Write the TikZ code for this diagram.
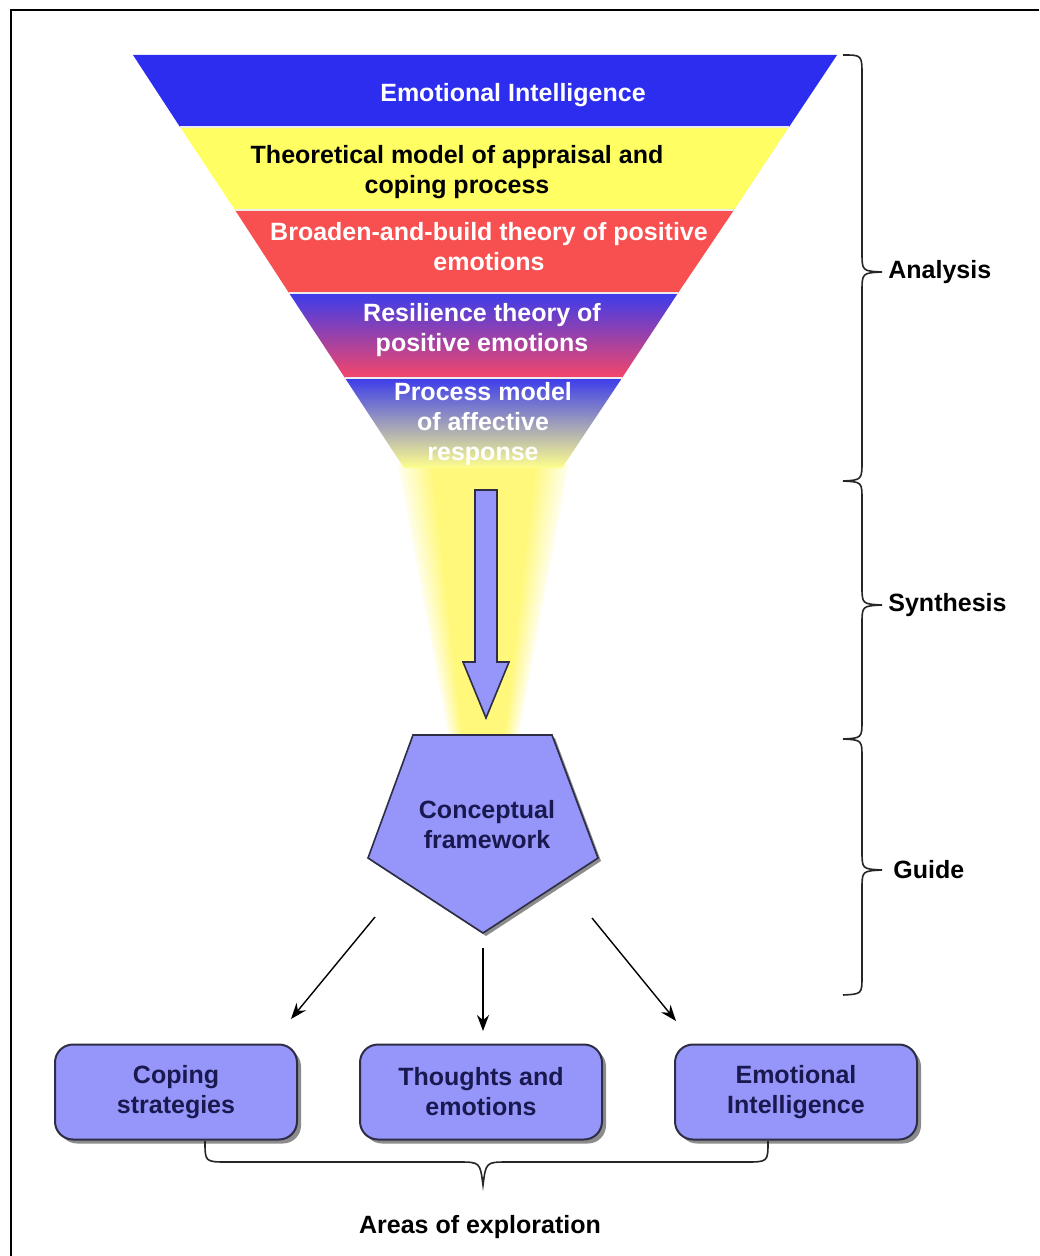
\documentclass[tikz,border=0pt]{standalone}
\usepackage{fontspec}
\setmainfont{Liberation Sans}
\usetikzlibrary{arrows.meta,shadows}

\definecolor{bandblue}{RGB}{45,45,240}
\definecolor{bandyellow}{RGB}{255,255,100}
\definecolor{bandred}{RGB}{248,80,80}
\definecolor{bandpink}{RGB}{245,70,105}
\definecolor{bandviolet}{RGB}{165,60,190}
\definecolor{fadeblue}{RGB}{60,60,235}
\definecolor{fadegray}{RGB}{170,170,200}
\definecolor{fadeyellow}{RGB}{255,255,140}
\definecolor{peri}{RGB}{150,150,250}
\definecolor{navy}{RGB}{25,25,80}
\definecolor{edge}{RGB}{45,45,70}

\tikzset{
  txt/.style={font=\fontsize{12.5}{15}\selectfont\bfseries, align=center, inner sep=0pt},
  wtxt/.style={txt, text=white},
  btxt/.style={txt, text=black},
  ntxt/.style={txt, text=navy},
  area/.style={ntxt, draw=edge, line width=1pt, fill=peri, rounded corners=9pt,
    minimum width=121pt, minimum height=47.5pt,
    drop shadow={shadow xshift=2pt, shadow yshift=-2pt, fill=black!45, opacity=1}},
  conn/.style={line width=0.7pt, -{Stealth[length=8pt,width=6pt]}},
  brace/.style={line width=0.8pt, draw=black!85},
  phase/.style={txt, text=black, anchor=west},
  sep/.style={draw=white!85!gray, line width=0.6pt}
}

\begin{document}
\begin{tikzpicture}[x=0.5pt,y=-0.5pt]
\useasboundingbox (0,0) rectangle (1039,1256);
\fill[white] (0,0) rectangle (1039,1256);

% frame
\draw[line width=1.2pt] (11,1256) -- (11,10) -- (1039,10);

% light beam below the funnel, soft edges built from nested layers
\foreach \i in {0,...,11} {
  \pgfmathtruncatemacro\c{8+4*\i}
  \fill[yellow!\c!white] (398+3*\i,464) -- (569-3*\i,464)
    -- (518-1.2*\i,737) -- (449+1.2*\i,737) -- cycle;
}

% funnel bands
\fill[bandblue] (133,55) -- (837,55) -- (789,127) -- (180,127) -- cycle;
\fill[bandyellow] (180,127) -- (789,127) -- (734,210) -- (235,210) -- cycle;
\fill[bandred] (235,210) -- (734,210) -- (678,293) -- (289,293) -- cycle;
\shade[top color=fadeblue, middle color=bandviolet, bottom color=bandpink]
  (289,293) -- (678,293) -- (622,378) -- (345,378) -- cycle;
\shade[top color=fadeblue, middle color=fadegray, bottom color=fadeyellow]
  (345,378) -- (622,378) -- (562,468) -- (404,468) -- cycle;
\draw[sep] (180,127) -- (789,127);
\draw[sep] (235,210) -- (734,210);
\draw[sep] (289,293) -- (678,293);
\draw[sep] (345,378) -- (622,378);

% band captions
\node[wtxt] (ei) at (513,95) {Emotional Intelligence};
\node[btxt] (appraisal) at (457,172) {Theoretical model of appraisal and\\coping process};
\node[wtxt] (broaden) at (489,247) {Broaden-and-build theory of positive\\emotions};
\node[wtxt] (resilience) at (482,330) {Resilience theory of\\positive emotions};
\node[wtxt] (process) at (483,424) {Process model\\of affective\\response};

% block arrow inside the beam
\filldraw[fill=peri, draw=edge, line width=0.8pt]
  (475,490) -- (497,490) -- (497,662) -- (509,662) -- (486,718)
  -- (463,662) -- (475,662) -- cycle;

% pentagon
\fill[black!45] (416,738) -- (555,738) -- (601,861) -- (486,936) -- (371,861) -- cycle;
\filldraw[fill=peri, draw=edge, line width=0.8pt]
  (413,735) -- (552,735) -- (598,858) -- (483,933) -- (368,858) -- cycle;
\node[ntxt] (cf) at (487,825) {Conceptual\\framework};

% areas of exploration
\node[area] (coping) at (176,1092) {Coping\\strategies};
\node[area] (thoughts) at (481,1092) {Thoughts and\\emotions};
\node[area] (emo) at (796,1092) {Emotional\\Intelligence};

% arrows from the framework
\coordinate (s1) at (375,917);
\coordinate (t1) at (291,1019);
\coordinate (s2) at (483,948);
\coordinate (t2) at (483,1031);
\coordinate (s3) at (592,918);
\coordinate (t3) at (676,1021);
\draw[conn] (s1) -- (t1);
\draw[conn] (s2) -- (t2);
\draw[conn] (s3) -- (t3);

% brace under the three boxes
\draw[brace] (205,1141) .. controls (205,1162) .. (228,1162) -- (458,1162)
  .. controls (480,1162) .. (483,1185) .. controls (486,1162) .. (508,1162)
  -- (745,1162) .. controls (768,1162) .. (768,1141);
\node[btxt] (areas) at (480,1227) {Areas of exploration};

% phase braces
\draw[brace] (843,55) .. controls (862,55) .. (862,76) -- (862,252)
  .. controls (862,271) .. (882,272) .. controls (862,273) .. (862,292)
  -- (862,460) .. controls (862,480) .. (843,481);
\draw[brace] (843,481) .. controls (862,482) .. (862,500) -- (862,586)
  .. controls (862,604) .. (882,605) .. controls (862,606) .. (862,624)
  -- (862,720) .. controls (862,738) .. (843,739);
\draw[brace] (843,739) .. controls (862,740) .. (862,758) -- (862,851)
  .. controls (862,869) .. (882,870) .. controls (862,871) .. (862,889)
  -- (862,976) .. controls (862,994) .. (843,995);
\node[phase] (analysis) at (888,272) {Analysis};
\node[phase] (synthesis) at (888,605) {Synthesis};
\node[phase] (guide) at (893,870) {Guide};
\end{tikzpicture}
\end{document}
